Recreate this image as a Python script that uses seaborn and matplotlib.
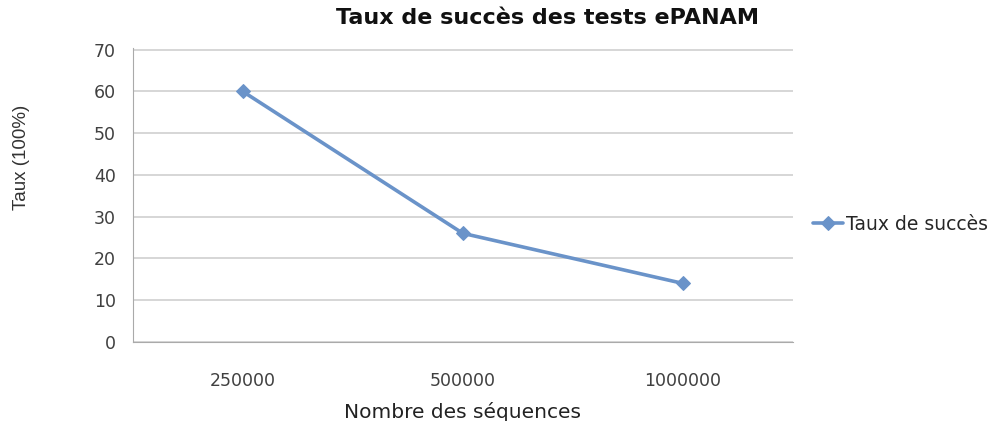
import pandas as pd
import seaborn as sns
import matplotlib.pyplot as plt

# data
sequences = ["250000", "500000", "1000000"]
taux = [60, 26, 14]
series_name = "Taux de succès"

df = pd.DataFrame({"sequences": sequences, "taux": taux, "serie": series_name})

sns.set_style("white")
plt.rcParams["font.family"] = ["DejaVu Sans"]

fig = plt.figure(figsize=(10.05, 4.21), dpi=100)
ax = fig.add_axes([0.132, 0.188, 0.657, 0.698])

line_color = "#6a93c9"
sns.lineplot(data=df, x="sequences", y="taux", hue="serie", palette=[line_color],
             marker="D", markersize=7, linewidth=2.6, markeredgecolor=line_color,
             sort=False, ax=ax)

ax.set_xlim(-0.5, 2.5)
ax.set_ylim(0, 70.4)
ax.set_yticks(range(0, 71, 10))
ax.set_xticks([-0.5, 0.5, 1.5, 2.5], minor=True)
ax.tick_params(axis="x", which="major", length=0, pad=22, labelsize=12.5, labelcolor="#404040")
ax.tick_params(axis="x", which="minor", length=5, color="#aaaaaa", direction="out")
ax.tick_params(axis="y", length=5, color="#aaaaaa", direction="out", pad=7,
               labelsize=12.5, labelcolor="#404040")
ax.grid(axis="y", color="#d0d0d0", linewidth=1.2)
ax.set_axisbelow(True)
for side in ["top", "right"]:
    ax.spines[side].set_visible(False)
for side in ["left", "bottom"]:
    ax.spines[side].set_color("#aaaaaa")

fig.text(0.545, 0.957, "Taux de succès des tests ePANAM", fontsize=16,
         fontweight="bold", color="#111111", ha="center", va="center")
ax.set_xlabel("Nombre des séquences", fontsize=14.5, color="#222222", labelpad=8)
ax.set_ylabel("")
fig.text(0.021, 0.627, "Taux (100%)", fontsize=13.5, color="#333333", rotation=90,
         ha="center", va="center", family=["Liberation Sans Narrow", "Liberation Sans", "DejaVu Sans"])

ax.legend(loc="center left", bbox_to_anchor=(1.005, 0.40), frameon=False,
          fontsize=13.5, handlelength=1.6, handletextpad=0.15)

fig.savefig("out.png", dpi=100)
